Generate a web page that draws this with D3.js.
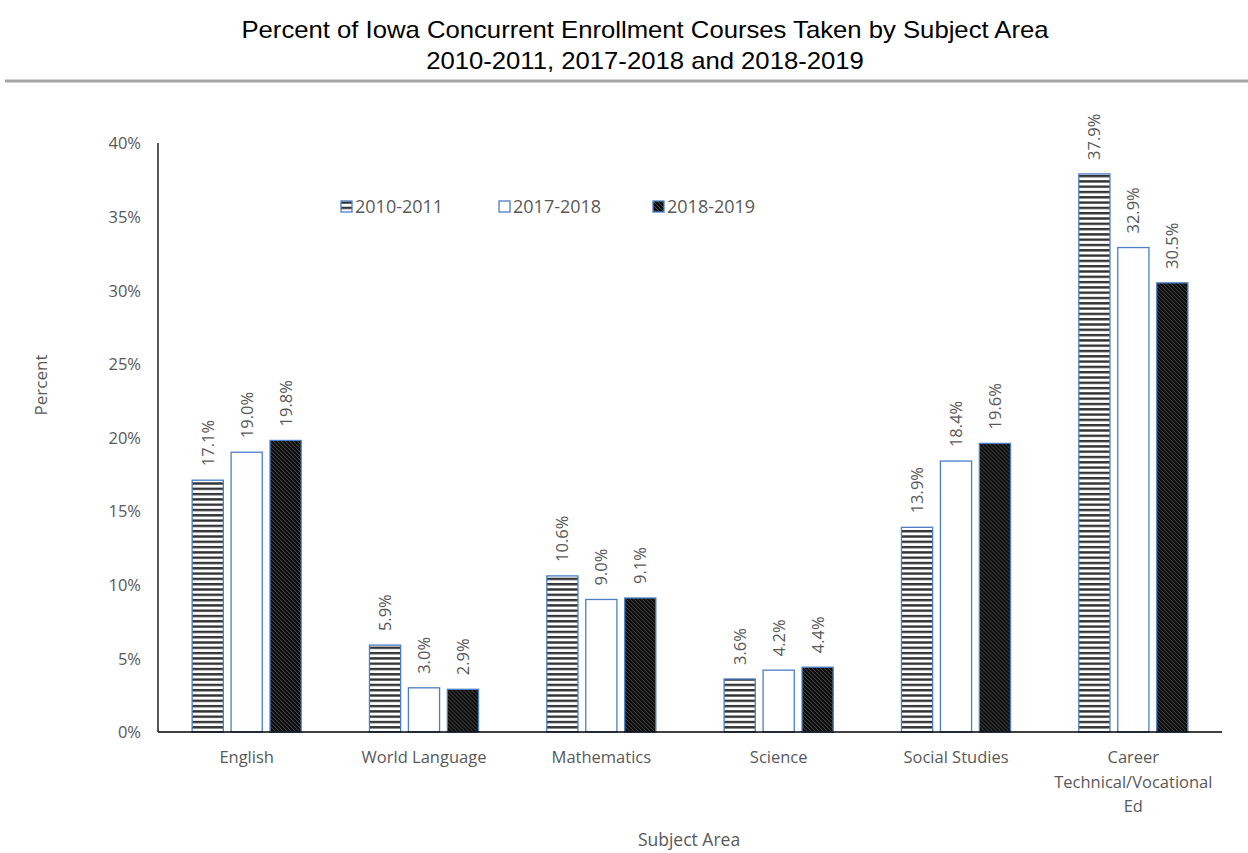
<!DOCTYPE html>
<html>
<head>
<meta charset="utf-8">
<script src="https://cdn.jsdelivr.net/npm/d3@7"></script>
<style>
  body { margin: 0; background: #fff; }
  svg { display: block; }
</style>
</head>
<body>
<svg id="chart" width="1248" height="853"></svg>
<script>
// Subject areas and the share of concurrent enrollment courses in each year
const categories = ["English", "World Language", "Mathematics", "Science", "Social Studies", "Career Technical/Vocational Ed"];
const categoryLines = [["English"], ["World Language"], ["Mathematics"], ["Science"], ["Social Studies"], ["Career", "Technical/Vocational", "Ed"]];
const seriesNames = ["2010-2011", "2017-2018", "2018-2019"];
const values2010 = [17.1, 5.9, 10.6, 3.6, 13.9, 37.9];
const values2017 = [19.0, 3.0, 9.0, 4.2, 18.4, 32.9];
const values2018 = [19.8, 2.9, 9.1, 4.4, 19.6, 30.5];
const yTicks = [0, 5, 10, 15, 20, 25, 30, 35, 40];

const seriesValues = [values2010, values2017, values2018];
const svg = d3.select("#chart");
const labelFont = "'Open Sans', 'Noto Sans', sans-serif";
const textGray = "#595959";
const barStroke = "#4A7EC7";

// Fill patterns: horizontal stripes, plain white, dark diagonal hatch
const defs = svg.append("defs");
const stripes = defs.append("pattern").attr("id", "pat-stripes")
  .attr("patternUnits", "userSpaceOnUse").attr("width", 8).attr("height", 5.3);
stripes.append("rect").attr("width", 8).attr("height", 5.3).attr("fill", "#fff");
stripes.append("rect").attr("y", 0).attr("width", 8).attr("height", 2.4).attr("fill", "#333");

const hatch = defs.append("pattern").attr("id", "pat-hatch")
  .attr("patternUnits", "userSpaceOnUse").attr("width", 4).attr("height", 4);
hatch.append("rect").attr("width", 4).attr("height", 4).attr("fill", "#0d0d0d");
hatch.append("path").attr("d", "M-1,-1 L5,5 M-1,3 L1,5 M3,-1 L5,1")
  .attr("stroke", "#5a5a5a").attr("stroke-width", 0.8);

const fills = ["url(#pat-stripes)", "#ffffff", "url(#pat-hatch)"];

// Title and rule beneath it
const title = svg.append("g").attr("transform", "translate(645,0) scale(1.07,1)");
const titleText = title.append("text").attr("text-anchor", "middle")
  .attr("font-family", "'Liberation Sans', Arial, sans-serif").attr("font-size", 24).attr("fill", "#000");
titleText.append("tspan").attr("x", 0).attr("y", 38).text("Percent of Iowa Concurrent Enrollment Courses Taken by Subject Area");
titleText.append("tspan").attr("x", 0).attr("y", 69).text("2010-2011, 2017-2018 and 2018-2019");
svg.append("line").attr("x1", 5).attr("x2", 1248).attr("y1", 81).attr("y2", 81)
  .attr("stroke", "#a6a6a6").attr("stroke-width", 3);

// Scales
const x0 = d3.scaleBand().domain(categories).range([158, 1222])
  .paddingInner(0.385).paddingOuter(0.1925);
const x1 = d3.scaleBand().domain(seriesNames).range([0, x0.bandwidth()]).paddingInner(0.2);
const y = d3.scaleLinear().domain([0, 40]).range([732, 143]);

// Y tick labels
const yAxis = d3.axisLeft(y).tickValues(yTicks).tickSize(0).tickPadding(0)
  .tickFormat(d => d + "%");
const gy = svg.append("g").attr("transform", "translate(141,0)").call(yAxis);
gy.select(".domain").remove();
gy.selectAll("text").attr("font-family", labelFont).attr("font-size", 16.5)
  .attr("fill", textGray).attr("dy", "0.35em");

// Bars with rotated value labels
const groups = svg.append("g").selectAll("g").data(categories).join("g")
  .attr("transform", d => `translate(${x0(d)},0)`);
groups.each(function(cat, ci) {
  const g = d3.select(this);
  seriesNames.forEach((s, si) => {
    const v = seriesValues[si][ci];
    g.append("rect")
      .attr("x", x1(s)).attr("width", x1.bandwidth())
      .attr("y", y(v)).attr("height", y(0) - y(v))
      .attr("fill", fills[si]).attr("stroke", barStroke).attr("stroke-width", 1.3);
    const cx = x1(s) + x1.bandwidth() / 2;
    g.append("text")
      .attr("transform", `translate(${cx + 6},${y(v) - 14}) rotate(-90)`)
      .attr("font-family", labelFont).attr("font-size", 16.5).attr("fill", textGray)
      .text(v.toFixed(1) + "%");
  });
});

// Axis lines
svg.append("line").attr("x1", 158).attr("x2", 158).attr("y1", 143).attr("y2", 732)
  .attr("stroke", "#000").attr("stroke-width", 1.3);
svg.append("line").attr("x1", 158).attr("x2", 1222).attr("y1", 732).attr("y2", 732)
  .attr("stroke", "#000").attr("stroke-width", 1.3);

// Category labels
categories.forEach((c, i) => {
  const t = svg.append("text").attr("text-anchor", "middle")
    .attr("font-family", labelFont).attr("font-size", 16.5).attr("fill", textGray);
  categoryLines[i].forEach((line, li) => {
    t.append("tspan").attr("x", x0(c) + x0.bandwidth() / 2).attr("y", 763 + li * 24.5).text(line);
  });
});

// Axis titles
svg.append("text").attr("x", 689).attr("y", 846).attr("text-anchor", "middle")
  .attr("font-family", labelFont).attr("font-size", 17.5).attr("fill", textGray).text("Subject Area");
svg.append("text").attr("transform", "translate(47,385) rotate(-90)").attr("text-anchor", "middle")
  .attr("font-family", labelFont).attr("font-size", 17).attr("fill", textGray).text("Percent");

// Legend
const legendX = [341, 499, 653];
seriesNames.forEach((s, i) => {
  svg.append("rect").attr("x", legendX[i]).attr("y", 201).attr("width", 11).attr("height", 11)
    .attr("fill", fills[i]).attr("stroke", barStroke).attr("stroke-width", 1.3);
  svg.append("text").attr("x", legendX[i] + 14).attr("y", 213)
    .attr("font-family", labelFont).attr("font-size", 18).attr("fill", textGray).text(s);
});
</script>
</body>
</html>
